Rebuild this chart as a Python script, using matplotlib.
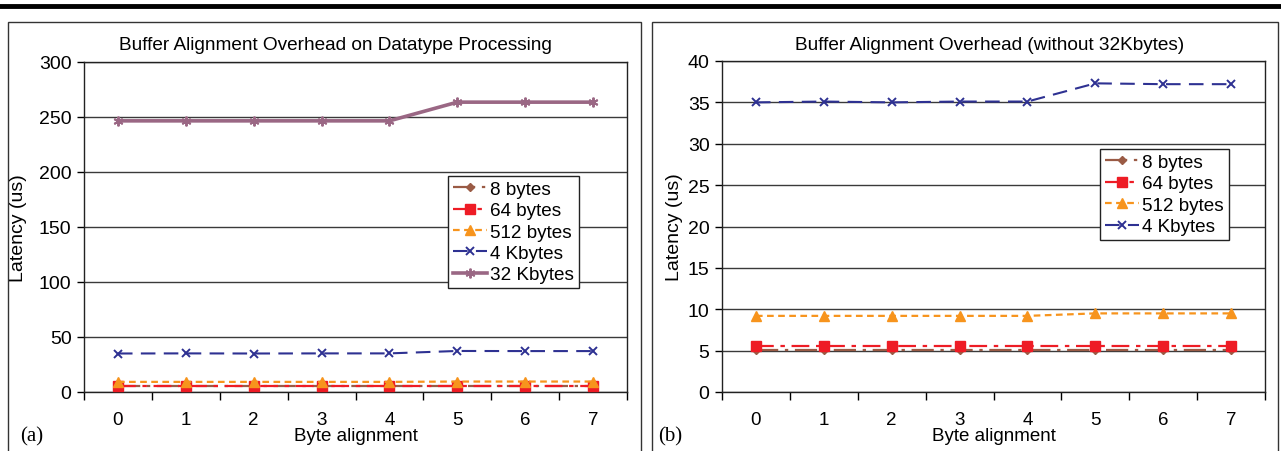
import matplotlib.pyplot as plt
from matplotlib.patches import Rectangle
from matplotlib.lines import Line2D

plt.rcParams['font.family'] = ['Liberation Sans', 'DejaVu Sans']

# ---- data ----
alignment = [0, 1, 2, 3, 4, 5, 6, 7]
lat_8b = [5.1, 5.1, 5.1, 5.1, 5.1, 5.1, 5.1, 5.1]
lat_64b = [5.5, 5.5, 5.5, 5.5, 5.5, 5.5, 5.5, 5.5]
lat_512b = [9.2, 9.2, 9.2, 9.2, 9.2, 9.5, 9.5, 9.5]
lat_4k = [35.0, 35.1, 35.0, 35.1, 35.1, 37.3, 37.2, 37.2]
lat_32k = [246.5, 246.5, 246.5, 246.5, 246.5, 263.5, 263.5, 263.5]

series_names = ['8 bytes', '64 bytes', '512 bytes', '4 Kbytes', '32 Kbytes']
left_ticks = [0, 50, 100, 150, 200, 250, 300]
right_ticks = [0, 5, 10, 15, 20, 25, 30, 35, 40]

# styles per series
styles = {
    '8 bytes':   dict(color='#9A5B45', ls=(0, (10, 3, 1.5, 3)), lw=1.6, marker='D', ms=4.5),
    '64 bytes':  dict(color='#EE1C25', ls=(0, (8, 3, 2, 3)), lw=1.6, marker='s', ms=7),
    '512 bytes': dict(color='#F7941D', ls=(0, (3, 2)), lw=1.6, marker='^', ms=7),
    '4 Kbytes':  dict(color='#2E3192', ls=(0, (7, 4)), lw=1.5, marker='x', ms=6, mew=1.4),
    '32 Kbytes': dict(color='#9A6784', ls='-', lw=2.6, marker=(6, 2, 0), ms=7, mew=1.4),
}

W, H = 1281, 452
fig = plt.figure(figsize=(W / 100, H / 100), dpi=100)


def fx(px):
    return px / W


def fy(py):
    return 1 - py / H


def draw_panel(rect, series, yticks, title, title_x, tag, legend_anchor, ylabel_x):
    ax = fig.add_axes(rect)
    for name, vals in series:
        st = styles[name]
        ax.plot(alignment, vals, label=name, color=st['color'], linestyle=st['ls'],
                linewidth=st['lw'], marker=st['marker'], markersize=st['ms'],
                markeredgewidth=st.get('mew', 1.0), markerfacecolor=st['color'],
                markeredgecolor=st['color'], zorder=3)
    ax.set_xlim(-0.5, 7.5)
    ax.set_ylim(yticks[0], yticks[-1])
    ax.set_yticks(yticks)
    ax.set_xticks(alignment)
    ax.set_xticks([a - 0.5 for a in alignment] + [7.5], minor=True)
    ax.tick_params(axis='x', which='major', length=0, pad=14, labelsize=13.5)
    ax.tick_params(axis='x', which='minor', length=6, width=1, direction='out')
    ax.tick_params(axis='y', length=5, width=1, direction='out', labelsize=14, pad=4)
    ax.grid(axis='y', color='#3a3a3a', linewidth=1)
    ax.set_axisbelow(True)
    for s in ax.spines.values():
        s.set_linewidth(1)
        s.set_color('#222222')
    ax.set_title(title, fontsize=13.7, pad=9, x=title_x)
    ax.set_xlabel('Byte alignment', fontsize=13.5, labelpad=-1)
    ax.yaxis.set_label_coords(ylabel_x, 0.5)
    ax.set_ylabel('Latency (us)', fontsize=14)
    leg = ax.legend(loc='upper left', bbox_to_anchor=legend_anchor, borderaxespad=0,
                    fancybox=False, framealpha=1, edgecolor='#222222', fontsize=13.6,
                    handlelength=1.8, handletextpad=0.2, labelspacing=0.22,
                    borderpad=0.25)
    leg.get_frame().set_linewidth(1)
    fig.text(rect[0] - fx(64), fy(437), tag, fontsize=15, family='Liberation Serif',
             va='center', ha='left')
    return ax


# thick rule at the top and panel frames
fig.add_artist(Line2D([0, 1], [fy(7), fy(7)], color='black', linewidth=3.5,
                      transform=fig.transFigure))
fig.add_artist(Rectangle((fx(8), fy(460)), fx(633), fy(23) - fy(460), fill=False,
                         edgecolor='#333333', linewidth=1, transform=fig.transFigure))
fig.add_artist(Rectangle((fx(652), fy(460)), fx(626), fy(23) - fy(460), fill=False,
                         edgecolor='#333333', linewidth=1, transform=fig.transFigure))

left_rect = [fx(84), fy(393), fx(543), fy(63) - fy(393)]
right_rect = [fx(722), fy(393), fx(543), fy(62) - fy(393)]

draw_panel(left_rect,
           [('8 bytes', lat_8b), ('64 bytes', lat_64b), ('512 bytes', lat_512b),
            ('4 Kbytes', lat_4k), ('32 Kbytes', lat_32k)],
           left_ticks, 'Buffer Alignment Overhead on Datatype Processing', 0.463, '(a)',
           (0.670, 0.655), -0.105)
draw_panel(right_rect,
           [('8 bytes', lat_8b), ('64 bytes', lat_64b), ('512 bytes', lat_512b),
            ('4 Kbytes', lat_4k)],
           right_ticks, 'Buffer Alignment Overhead (without 32Kbytes)', 0.493, '(b)',
           (0.696, 0.734), -0.072)

fig.savefig('out.png', dpi=100)
